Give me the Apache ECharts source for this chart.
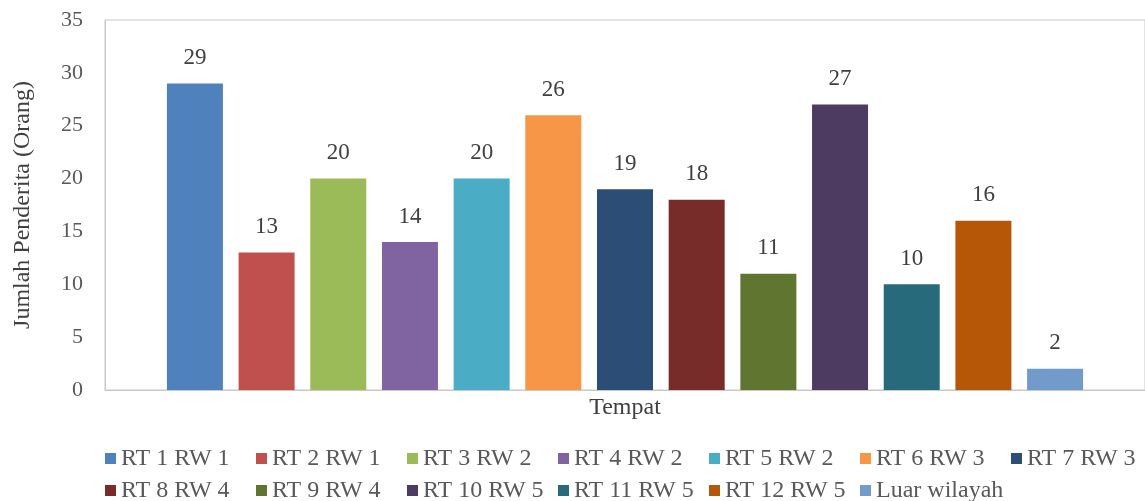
<!DOCTYPE html>
<html>
<head>
<meta charset="utf-8">
<script src="https://cdn.jsdelivr.net/npm/echarts@6/dist/echarts.min.js"></script>
<style>
  html, body { margin: 0; padding: 0; background: #fff; }
  #chart { width: 1145px; height: 501px; }
</style>
</head>
<body>
<div id="chart"></div>
<script>
// data
const categories = ['Tempat'];
const seriesNames = ['RT 1 RW 1', 'RT 2 RW 1', 'RT 3 RW 2', 'RT 4 RW 2', 'RT 5 RW 2', 'RT 6 RW 3', 'RT 7 RW 3',
    'RT 8 RW 4', 'RT 9 RW 4', 'RT 10 RW 5', 'RT 11 RW 5', 'RT 12 RW 5', 'Luar wilayah'];
const values = [29, 13, 20, 14, 20, 26, 19, 18, 11, 27, 10, 16, 2];
const colors = ['#4F81BD', '#C0504D', '#9BBB59', '#8064A2', '#4BACC6', '#F79646', '#2C4D75',
    '#772C2A', '#5F7530', '#4D3B62', '#276A7C', '#B65708', '#729ACA'];
const yTicks = [0, 35, 5];

const font = '"Liberation Serif", "Times New Roman", serif';
const chart = echarts.init(document.getElementById('chart'), null, {renderer: 'canvas'});

const series = seriesNames.map(function (name, i) {
    return {
        name: name,
        type: 'bar',
        data: [values[i]],
        barWidth: 56,
        barGap: '28%',
        itemStyle: {color: colors[i]},
        label: {
            show: true,
            position: 'top',
            distance: 14,
            fontFamily: font,
            fontSize: 23,
            color: '#404040'
        }
    };
});

chart.setOption({
    animation: false,
    color: colors,
    grid: {
        left: 105, right: -2, top: 20, bottom: 111,
        show: true, borderColor: '#c8c8c8', borderWidth: 1
    },
    legend: {
        left: 100, top: 441, width: 1050,
        icon: 'rect', itemWidth: 11, itemHeight: 11, itemGap: 7,
        textStyle: {fontFamily: font, fontSize: 24, color: '#595959', width: 128, lineHeight: 25}
    },
    xAxis: {
        type: 'category',
        data: categories,
        axisLine: {show: true, lineStyle: {color: '#c8c8c8'}},
        axisTick: {show: false},
        axisLabel: {fontFamily: font, fontSize: 24, color: '#404040', margin: 6}
    },
    yAxis: {
        type: 'value',
        min: yTicks[0], max: yTicks[1], interval: yTicks[2],
        name: 'Jumlah Penderita (Orang)',
        nameLocation: 'middle',
        nameGap: 70,
        nameTextStyle: {fontFamily: font, fontSize: 24, color: '#404040'},
        axisLine: {show: true, lineStyle: {color: '#c8c8c8'}},
        axisTick: {show: false},
        splitLine: {show: false},
        axisLabel: {fontFamily: font, fontSize: 22, color: '#595959', margin: 22}
    },
    series: series
});
</script>
</body>
</html>
